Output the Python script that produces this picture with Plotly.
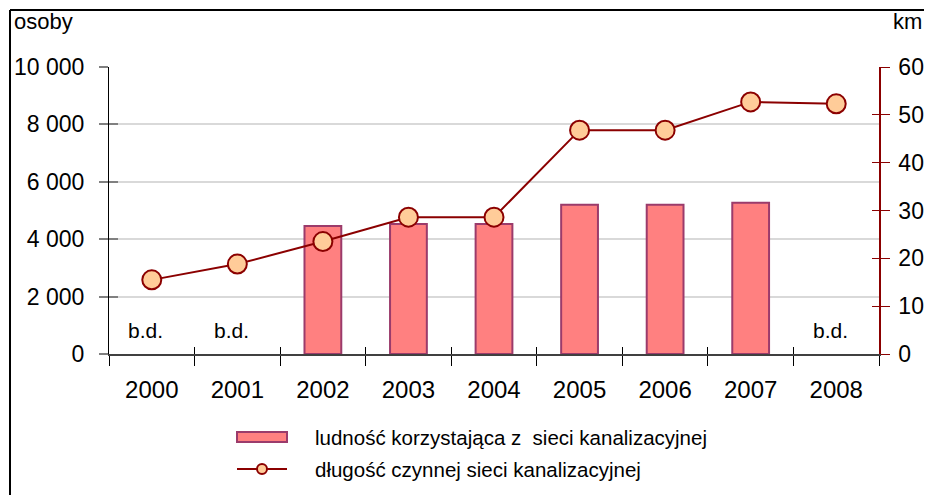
import plotly.graph_objects as go

years = ["2000", "2001", "2002", "2003", "2004", "2005", "2006", "2007", "2008"]
population = [None, None, 4460, 4530, 4530, 5200, 5200, 5270, None]
length_km = [15.5, 18.8, 23.5, 28.6, 28.6, 46.8, 46.8, 52.7, 52.3]
no_data_years = ["2000", "2001", "2008"]
left_ticks = [0, 2000, 4000, 6000, 8000, 10000]
right_ticks = [0, 10, 20, 30, 40, 50, 60]
bar_name = "ludność korzystająca z  sieci kanalizacyjnej"
line_name = "długość czynnej sieci kanalizacyjnej"

# page has an 8px body margin; figure is drawn at (8, 8)
OFF = 8
PAGE_W, PAGE_H = 932, 495
W, H = PAGE_W - OFF, PAGE_H - OFF
# plot area in page pixels: x 109..879, y 67..354
L, R, T, B = 109 - OFF, PAGE_W - 879, 67 - OFF, PAGE_H - 354
pw, ph = W - L - R, H - T - B

def px(x):  # page px -> paper
    return (x - OFF - L) / pw

def py(y):
    return (354 - y) / ph

FONT = "Liberation Sans, Arial, sans-serif"
DARKRED = "#8B0000"
BARFILL = "#FF8080"
BARLINE = "#9B3B6B"

fig = go.Figure()
fig.add_trace(go.Bar(
    x=years, y=population, name=bar_name, width=0.43,
    marker=dict(color=BARFILL, line=dict(color=BARLINE, width=2)),
    yaxis="y", showlegend=False,
))
fig.add_trace(go.Scatter(
    x=years, y=length_km, name=line_name, mode="lines+markers",
    line=dict(color=DARKRED, width=2),
    marker=dict(size=19, color="#FFCC99", line=dict(color=DARKRED, width=2)),
    yaxis="y2", showlegend=False,
))
# empty helper traces so the overlay axes (inner halves of crossing ticks) are drawn
empty = [None] * len(years)
fig.add_trace(go.Scatter(x=years, y=empty, xaxis="x2", yaxis="y3", showlegend=False, hoverinfo="skip"))
fig.add_trace(go.Scatter(x=years, y=empty, xaxis="x2", yaxis="y4", showlegend=False, hoverinfo="skip"))

annotations = []
for yr in no_data_years:
    annotations.append(dict(x=years.index(yr), y=830, xref="x", yref="y", text="b.d.",
                            showarrow=False, xshift=-6,
                            font=dict(size=21, color="black", family=FONT)))
annotations.append(dict(x=px(12), y=py(22), xref="paper", yref="paper", text="osoby",
                        showarrow=False, xanchor="left", yanchor="middle",
                        font=dict(size=22, color="black", family=FONT)))
annotations.append(dict(x=px(924), y=py(22), xref="paper", yref="paper", text="km",
                        showarrow=False, xanchor="right", yanchor="middle",
                        font=dict(size=22, color="black", family=FONT)))
annotations.append(dict(x=px(313), y=py(437), xref="paper", yref="paper", text=bar_name,
                        showarrow=False, xanchor="left", yanchor="middle",
                        font=dict(size=20.5, color="black", family=FONT)))
annotations.append(dict(x=px(313), y=py(469), xref="paper", yref="paper", text=line_name,
                        showarrow=False, xanchor="left", yanchor="middle",
                        font=dict(size=20.5, color="black", family=FONT)))

shapes = [
    # outer frame (left and top edges visible)
    dict(type="line", xref="paper", yref="paper", x0=px(10), x1=px(10), y0=py(10), y1=py(500),
         line=dict(color="black", width=2)),
    dict(type="line", xref="paper", yref="paper", x0=px(10), x1=px(940), y0=py(10), y1=py(10),
         line=dict(color="black", width=2)),
    # legend: bar swatch
    dict(type="rect", xref="paper", yref="paper", x0=px(237), x1=px(287), y0=py(432), y1=py(442),
         fillcolor=BARFILL, line=dict(color=BARLINE, width=2)),
    # legend: line + marker
    dict(type="line", xref="paper", yref="paper", x0=px(237), x1=px(287), y0=py(469), y1=py(469),
         line=dict(color=DARKRED, width=2)),
    dict(type="circle", xref="paper", yref="paper", x0=px(257), x1=px(267), y0=py(464), y1=py(474),
         fillcolor="#FFCC99", line=dict(color=DARKRED, width=2)),
]

fig.update_layout(
    width=W, height=H,
    margin=dict(l=L, r=R, t=T, b=B, pad=0, autoexpand=False),
    paper_bgcolor="white", plot_bgcolor="white",
    separators=", ",
    font=dict(family=FONT, size=22, color="black"),
    showlegend=False,
    xaxis=dict(
        type="category", categoryarray=years, range=[-0.5, 8.5], automargin=False,
        showline=True, linecolor="#404040", linewidth=1.5,
        ticks="outside", tickson="boundaries", ticklen=10, tickcolor="black", tickwidth=1,
        showgrid=False, zeroline=False,
        tickfont=dict(size=24, family=FONT, color="black"),
        ticklabelstandoff=13,
    ),
    xaxis2=dict(
        type="category", categoryarray=years, range=[-0.5, 8.5], automargin=False,
        overlaying="x", anchor="y", side="bottom",
        showline=False, ticks="inside", tickson="boundaries", ticklen=7,
        tickcolor="black", tickwidth=1, showticklabels=False,
        showgrid=False, zeroline=False,
    ),
    yaxis=dict(
        range=[0, 10000], tickvals=left_ticks, tickformat=",d", automargin=False,
        showline=True, linecolor="black", linewidth=1,
        ticks="outside", ticklen=9, tickcolor="#808080", tickwidth=1.5,
        showgrid=True, gridcolor="#D9D9D9", gridwidth=1.5,
        zeroline=False,
        tickfont=dict(size=23, family=FONT, color="black"),
        ticklabelstandoff=10,
    ),
    yaxis2=dict(
        range=[0, 60], tickvals=right_ticks, overlaying="y", side="right", automargin=False,
        showline=True, linecolor=DARKRED, linewidth=1.5,
        ticks="outside", ticklen=9, tickcolor=DARKRED, tickwidth=1,
        showgrid=False, zeroline=False,
        tickfont=dict(size=23, family=FONT, color="black"),
        ticklabelstandoff=4,
    ),
    yaxis3=dict(
        range=[0, 10000], tickvals=left_ticks, overlaying="y", side="left", anchor="x2",
        automargin=False, showline=False, ticks="inside", ticklen=9,
        tickcolor="#808080", tickwidth=1.5, showticklabels=False,
        showgrid=False, zeroline=False,
    ),
    yaxis4=dict(
        range=[0, 60], tickvals=right_ticks, overlaying="y", side="right", anchor="x2",
        automargin=False, showline=False, ticks="inside", ticklen=7,
        tickcolor=DARKRED, tickwidth=1, showticklabels=False,
        showgrid=False, zeroline=False,
    ),
    annotations=annotations,
    shapes=shapes,
)

fig.write_html("out.html")
